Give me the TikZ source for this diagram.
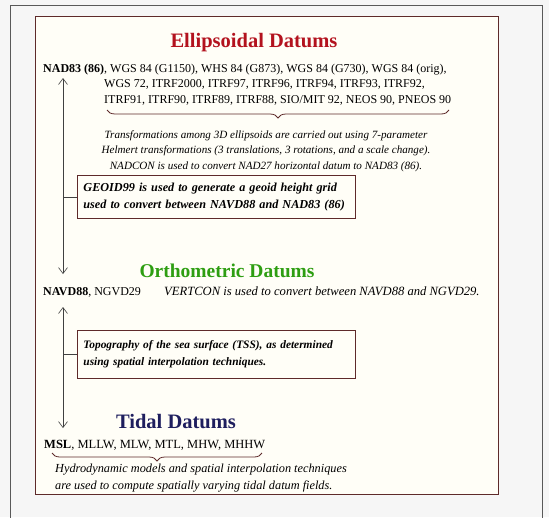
\documentclass[tikz,border=0pt]{standalone}
\usepackage{fontspec}
\setmainfont{Liberation Serif}
\usetikzlibrary{arrows.meta,decorations.pathreplacing}
\definecolor{ellred}{HTML}{B3121E}
\definecolor{orthgreen}{HTML}{2E9E12}
\definecolor{tidenavy}{HTML}{1E1E5E}
\definecolor{boxline}{HTML}{5E2A2A}
\definecolor{paper}{HTML}{F6F6F6}
\definecolor{cream}{HTML}{FFFEF7}
\tikzset{
  title/.style={font=\bfseries\fontsize{20.5}{22}\selectfont, anchor=base},
  body/.style={font=\fontsize{12}{15.5}\selectfont, anchor=base west, inner sep=0pt},
  note/.style={font=\itshape\fontsize{11.1}{15.5}\selectfont, align=center, anchor=north, inner sep=0pt},
  notebox/.style={draw=boxline, line width=0.9pt, fill=cream, font=\bfseries\itshape\fontsize{12.2}{17}\selectfont,
     align=left, anchor=north west, minimum width=278pt, text width=266pt, inner xsep=6pt, inner ysep=0pt},
  link/.style={draw=black!75, line width=0.6pt},
  dbl/.style={link, {Straight Barb[length=6pt,width=9pt]}-{Straight Barb[length=6pt,width=9pt]}},
  brc/.style={draw=boxline, line width=0.8pt, decorate, decoration={brace, mirror, amplitude=8pt}}
}
\begin{document}
\begin{tikzpicture}[x=1pt,y=-1pt]
\useasboundingbox (0,0) rectangle (549,517);
\fill[paper] (0,0) rectangle (549,517);
\draw[black!65, line width=0.8pt] (10,525) -- (10,5) -- (542,5) -- (542,525);
\draw[boxline, line width=1pt, fill=cream] (35,16) rectangle (498,494);

% Ellipsoidal
\node[title, text=ellred] (ellt) at (254,47) {Ellipsoidal Datums};
\node[body] (l1) at (43,72) {\textbf{NAD83 (86)}, WGS 84 (G1150), WHS 84 (G873), WGS 84 (G730), WGS 84 (orig),};
\node[body] (l2) at (104,87.5) {WGS 72, ITRF2000, ITRF97, ITRF96, ITRF94, ITRF93, ITRF92,};
\node[body] (l3) at (104,103) {ITRF91, ITRF90, ITRF89, ITRF88, SIO/MIT 92, NEOS 90, PNEOS 90};
\coordinate (b1a) at (107,110);
\coordinate (b1b) at (449,110);
\draw[brc] (b1a) -- (b1b);
\node[note] (n1) at (266,130) {Transformations among 3D ellipsoids are carried out using 7-parameter\\
Helmert transformations (3 translations, 3 rotations, and a scale change).\\
NADCON is used to convert NAD27 horizontal datum to NAD83 (86).};

\node[notebox, minimum height=43pt] (geo) at (77,175) {\mbox{GEOID99 is used to generate a geoid height grid}\\\mbox{used to convert between NAVD88 and NAD83 (86)}};

% Orthometric
\node[title, text=orthgreen, font=\bfseries\fontsize{19.5}{22}\selectfont] (orth) at (227,277) {Orthometric Datums};
\node[body] (l4) at (43,295) {\textbf{NAVD88}, NGVD29};
\node[body, font=\itshape\fontsize{12.6}{14}\selectfont] (vc) at (164,295) {VERTCON is used to convert between NAVD88 and NGVD29.};

\node[notebox, minimum height=48pt, font=\bfseries\itshape\fontsize{11.4}{17}\selectfont] (tss) at (77,330) {\mbox{Topography of the sea surface (TSS), as determined}\\\mbox{using spatial interpolation techniques.}};

% Tidal
\node[title, text=tidenavy] (tide) at (176,428) {Tidal Datums};
\node[body, font=\fontsize{12.5}{15.5}\selectfont] (l5) at (44,448) {\textbf{MSL}, MLLW, MLW, MTL, MHW, MHHW};
\coordinate (b2a) at (52,453);
\coordinate (b2b) at (262,453);
\draw[brc] (b2a) -- (b2b);
\node[note, align=left, anchor=north west, font=\itshape\fontsize{12.3}{17}\selectfont] (n2) at (55,464) {Hydrodynamic models and spatial interpolation techniques\\are used to compute spatially varying tidal datum fields.};

% connectors
\coordinate (a1) at (63,78);
\coordinate (a2) at (63,274);
\coordinate (a3) at (63,307);
\coordinate (a4) at (63,428);
\draw[dbl] (a1) -- (a2);
\draw[dbl] (a3) -- (a4);
\draw[link] (geo.west) -- (geo.west -| a1);
\draw[link] (tss.west) -- (tss.west -| a3);
\end{tikzpicture}
\end{document}
